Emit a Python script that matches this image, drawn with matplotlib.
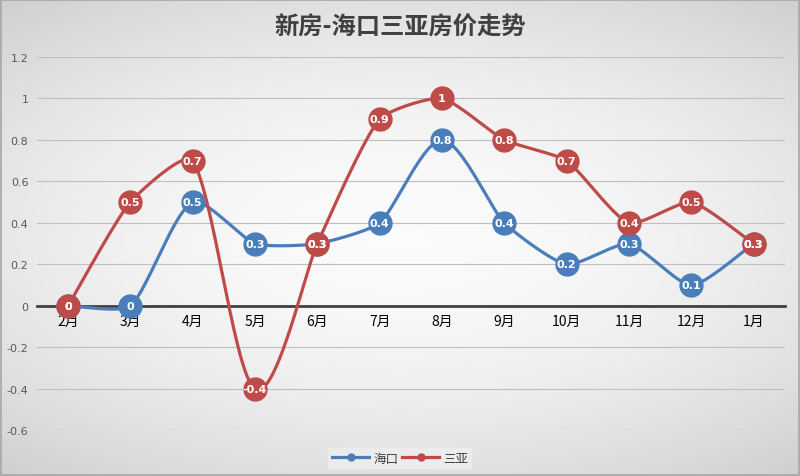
import numpy as np
import matplotlib
matplotlib.use("Agg")
import matplotlib.pyplot as plt
from matplotlib.lines import Line2D

plt.rcParams['font.family'] = ['Noto Sans CJK SC', 'DejaVu Sans']

title = "新房-海口三亚房价走势"
months = ["2月", "3月", "4月", "5月", "6月", "7月", "8月", "9月", "10月", "11月", "12月", "1月"]
haikou = [0, 0, 0.5, 0.3, 0.3, 0.4, 0.8, 0.4, 0.2, 0.3, 0.1, 0.3]
sanya = [0, 0.5, 0.7, -0.4, 0.3, 0.9, 1, 0.8, 0.7, 0.4, 0.5, 0.3]
series_names = ["海口", "三亚"]
colors = ["#4A7EBB", "#BE4B48"]
yticks = [-0.6, -0.4, -0.2, 0, 0.2, 0.4, 0.6, 0.8, 1, 1.2]

XPX, YPX = 62.4, 207.5  # approx pixel scale, used for smoothing shape only
SEGK = 0.18


def handle(pa, pb, seg_len):
    T = pb - pa
    L = np.linalg.norm(T)
    if L == 0:
        return np.zeros(2)
    h = min(L / 6, seg_len * SEGK)
    return T / L * h


def smooth(xs, ys, n=60):
    P = np.column_stack([np.asarray(xs, float) * XPX, np.asarray(ys, float) * YPX])
    N = len(P)
    out = []
    for i in range(N - 1):
        p0 = P[i - 1] if i > 0 else P[i]
        p1 = P[i]
        p2 = P[i + 1]
        p3 = P[i + 2] if i + 2 < N else P[i + 1]
        d12 = np.linalg.norm(p2 - p1)
        c1 = p1 + handle(p0, p2, d12)
        c2 = p2 - handle(p1, p3, d12)
        t = np.linspace(0, 1, n)[:, None]
        seg = ((1 - t) ** 3) * p1 + 3 * ((1 - t) ** 2) * t * c1 + 3 * (1 - t) * t ** 2 * c2 + t ** 3 * p2
        out.append(seg if i == 0 else seg[1:])
    pts = np.vstack(out)
    return pts[:, 0] / XPX, pts[:, 1] / YPX


fig = plt.figure(figsize=(8, 4.77), dpi=100)

# background radial gradient
bg = fig.add_axes([0, 0, 1, 1], zorder=-10)
yy, xx = np.mgrid[-1:1:300j, -1:1:500j]
r = np.sqrt((xx * 0.75) ** 2 + (yy * 0.9) ** 2)
val = 0.985 - 0.13 * np.clip(r, 0, 1.3) ** 1.8
img = np.dstack([val, val, val])
bg.imshow(img, aspect='auto', extent=[0, 1, 0, 1], interpolation='bilinear')
bg.set_xlim(0, 1); bg.set_ylim(0, 1)
bg.axis('off')
bg.add_patch(plt.Rectangle((0.001, 0.002), 0.998, 0.996, fill=False, ec="#A6A6A6", lw=1.2, transform=bg.transAxes))

ax = fig.add_axes([0.046, 0.0955, 0.935, 0.783])
ax.set_facecolor('none')
x = np.arange(len(months))

for vals, c in zip([haikou, sanya], colors):
    sx, sy = smooth(x, vals)
    ax.plot(sx, sy, color=c, lw=2.3, zorder=3, solid_capstyle='round')
    ax.plot(x, vals, 'o', color=c, ms=16.5, mec=c, zorder=4)
    for xi, v in zip(x, vals):
        lab = f"{v:g}"
        ax.text(xi, v, lab, ha='center', va='center', color='white', fontsize=8,
                fontweight='bold', zorder=5, family='DejaVu Sans')

ax.set_xlim(-0.5, len(months) - 0.5)
ax.set_ylim(-0.6, 1.2)
ax.set_yticks(yticks)
ax.set_yticklabels([f"{v:g}" for v in yticks], fontsize=8, color="#595959", family='DejaVu Sans')
ax.yaxis.grid(True, color="#BFBFBF", lw=0.8)
ax.set_axisbelow(True)
ax.tick_params(axis='y', length=0, pad=6)
ax.set_xticks(x)
ax.set_xticklabels(months, fontsize=8, color="#404040")
ax.tick_params(axis='x', length=0, pad=6)
for s in ['top', 'right', 'left']:
    ax.spines[s].set_visible(False)
ax.spines['bottom'].set_position(('data', 0))
ax.spines['bottom'].set_color('#404040')
ax.spines['bottom'].set_linewidth(2)
ax.spines['bottom'].set_zorder(2)

fig.text(0.5, 0.942, title, ha='center', va='center', fontsize=17.5, color='#404040', fontweight='bold')

handles = [Line2D([0], [0], color=c, lw=2.3, marker='o', ms=5) for c in colors]
leg = fig.legend(handles, series_names, loc='center', bbox_to_anchor=(0.5, 0.037), ncol=2,
                 fontsize=9, frameon=True, handlelength=3, columnspacing=0.3, handletextpad=0.3,
                 borderpad=0.3, fancybox=False)
leg.get_frame().set_facecolor('#EFEFEF')
leg.get_frame().set_edgecolor('none')
for t in leg.get_texts():
    t.set_color('#404040')

fig.savefig("out.png", dpi=100)
